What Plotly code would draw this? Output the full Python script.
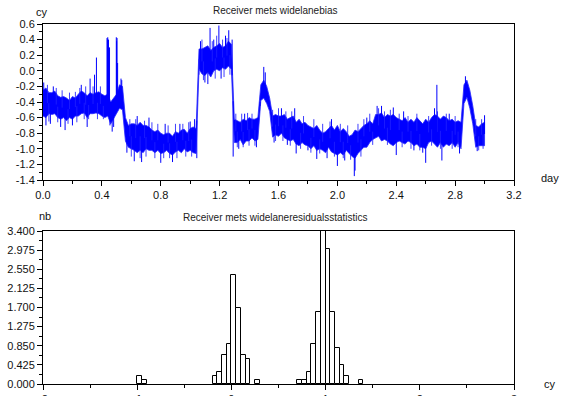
import numpy as np
import plotly.graph_objects as go

# ---------------- top chart data (day, cy) ----------------
days = [round(0.02 * i, 2) for i in range(151)]
band_hi = [-0.25, -0.22, -0.28, -0.28, -0.26, -0.32, -0.34, -0.33, -0.35, -0.38,
           -0.33, -0.35, -0.30, -0.26, -0.28, -0.32, -0.28, -0.30, -0.28, -0.27,
           -0.30, -0.32, -0.30, -0.40, -0.35, -0.30, -0.18, -0.20, -0.60, -0.70,
           -0.68, -0.68, -0.70, -0.66, -0.70, -0.70, -0.72, -0.76, -0.78, -0.76,
           -0.80, -0.82, -0.80, -0.80, -0.84, -0.78, -0.80, -0.76, -0.75, -0.80,
           -0.74, -0.72, -0.74, 0.28, 0.28, 0.30, 0.32, 0.26, 0.30, 0.32,
           0.35, 0.30, 0.32, 0.38, 0.34, -0.62, -0.64, -0.66, -0.62, -0.64,
           -0.60, -0.62, -0.62, -0.60, -0.18, -0.12, -0.20, -0.35, -0.58, -0.56,
           -0.58, -0.58, -0.56, -0.62, -0.60, -0.58, -0.66, -0.62, -0.68, -0.66,
           -0.70, -0.72, -0.74, -0.70, -0.76, -0.80, -0.78, -0.74, -0.70, -0.76,
           -0.70, -0.78, -0.74, -0.78, -0.84, -0.82, -0.76, -0.78, -0.74, -0.70,
           -0.68, -0.64, -0.68, -0.56, -0.56, -0.54, -0.60, -0.56, -0.58, -0.56,
           -0.60, -0.62, -0.64, -0.60, -0.66, -0.62, -0.66, -0.60, -0.64, -0.68,
           -0.62, -0.66, -0.60, -0.56, -0.58, -0.62, -0.58, -0.60, -0.64, -0.62,
           -0.66, -0.64, -0.66, -0.18, -0.12, -0.25, -0.45, -0.70, -0.72, -0.68,
           -0.66]
band_lo = [-0.58, -0.60, -0.55, -0.56, -0.55, -0.60, -0.62, -0.60, -0.64, -0.60,
           -0.62, -0.58, -0.58, -0.55, -0.54, -0.60, -0.55, -0.55, -0.54, -0.55,
           -0.58, -0.60, -0.58, -0.68, -0.62, -0.55, -0.48, -0.50, -0.90, -0.98,
           -1.00, -1.02, -1.05, -1.02, -1.05, -1.00, -1.02, -1.02, -1.05, -1.02,
           -1.06, -1.05, -1.02, -1.06, -1.08, -1.04, -1.02, -1.05, -1.00, -1.04,
           -1.02, -1.05, -1.06, 0.02, -0.04, -0.06, -0.02, -0.08, 0.00, 0.02,
           0.00, 0.04, 0.02, 0.06, 0.02, -0.92, -0.92, -0.88, -0.95, -0.90,
           -0.90, -0.86, -0.90, -0.88, -0.38, -0.35, -0.42, -0.52, -0.85, -0.82,
           -0.84, -0.80, -0.86, -0.88, -0.90, -0.88, -0.94, -0.96, -0.92, -0.95,
           -0.96, -1.00, -0.96, -1.02, -1.00, -1.02, -1.05, -0.98, -1.04, -1.06,
           -1.08, -1.05, -1.08, -1.02, -1.06, -1.10, -1.12, -1.06, -1.02, -0.98,
           -0.98, -0.92, -0.88, -0.86, -0.84, -0.90, -0.88, -0.90, -0.94, -0.96,
           -0.92, -0.90, -0.92, -0.94, -0.90, -0.92, -0.96, -0.94, -0.98, -0.98,
           -1.00, -0.92, -0.90, -0.94, -0.98, -0.92, -0.98, -0.94, -0.96, -0.92,
           -0.98, -0.92, -1.00, -0.42, -0.34, -0.48, -0.68, -0.98, -0.96, -0.96,
           -0.96]
# large excursions
spike_day = [0.005, 0.02, 0.05, 0.07, 0.12, 0.15, 0.20, 0.26, 0.30, 0.32,
             0.35, 0.363, 0.435, 0.438, 0.44, 0.442, 0.445, 0.452, 0.455, 0.47,
             0.48, 0.498, 0.50, 0.503, 0.507, 0.53, 0.535, 0.57, 0.62, 0.64,
             0.67, 0.72, 0.80, 0.83, 0.88, 0.93, 1.00, 1.03, 1.045, 1.07,
             1.10, 1.12, 1.135, 1.16, 1.195, 1.21, 1.24, 1.262, 1.285, 1.292,
             1.33, 1.37, 1.45, 1.475, 1.50, 1.51, 1.57, 1.62, 1.66, 1.71,
             1.72, 1.80, 1.86, 1.93, 1.96, 2.00, 2.05, 2.115, 2.12, 2.20,
             2.27, 2.30, 2.38, 2.40, 2.45, 2.52, 2.58, 2.60, 2.66, 2.676,
             2.71, 2.76, 2.83, 2.87, 2.95, 3.00]
spike_val = [-0.15, -0.70, -0.68, -0.20, -0.72, -0.76, -0.70, -0.18, -0.72, -0.10,
             -0.05, 0.17, 0.42, 0.40, 0.43, 0.35, 0.40, 0.30, -0.70, -0.78,
             -0.72, 0.43, 0.38, 0.42, 0.10, -0.10, -0.12, -1.05, -1.16, -0.58,
             -1.17, -0.60, -1.18, -0.68, -1.17, -0.68, -0.65, -0.62, -1.12, 0.38,
             -0.15, -0.17, 0.55, 0.40, 0.58, -0.10, 0.45, 0.52, 0.40, -1.10,
             -1.00, -0.55, -0.98, -0.45, 0.05, -0.02, -0.92, -0.48, -0.95, -0.48,
             -1.06, -1.02, -1.13, -1.12, -0.62, -1.22, -1.15, -1.35, -1.28, -0.60,
             -0.45, -0.45, -0.47, -1.08, -0.52, -1.02, -1.05, -1.18, -0.48, -0.18,
             -1.15, -0.55, -1.06, -0.07, -1.03, -0.57]
# small excursions along the band edges
fuzz_day = [0.03, 0.04, 0.09, 0.10, 0.13, 0.17, 0.18, 0.22, 0.23, 0.25,
            0.28, 0.29, 0.31, 0.34, 0.37, 0.39, 0.41,
            0.59, 0.60, 0.63, 0.66, 0.69, 0.70, 0.74, 0.76, 0.78, 0.82,
            0.85, 0.86, 0.90, 0.91, 0.95, 0.97, 0.99, 1.01,
            1.06, 1.08, 1.09, 1.15, 1.17, 1.18, 1.22, 1.23, 1.25, 1.27,
            1.31, 1.32, 1.35, 1.36, 1.39, 1.40, 1.42, 1.44,
            1.56, 1.58, 1.60, 1.63, 1.65, 1.68, 1.69, 1.75, 1.77, 1.82,
            1.84, 1.88, 1.90, 1.95, 1.98, 2.02, 2.04, 2.07, 2.09,
            2.14, 2.16, 2.18, 2.22, 2.24, 2.28, 2.32, 2.34, 2.36, 2.42,
            2.44, 2.48, 2.50, 2.54, 2.56, 2.62, 2.64, 2.68, 2.70, 2.74,
            2.78, 2.80, 2.82, 2.94, 2.96, 2.98, 2.99]
fuzz_val = [-0.18, -0.65, -0.22, -0.66, -0.25, -0.68, -0.28, -0.27, -0.66, -0.22,
            -0.62, -0.20, -0.62, -0.20, -0.62, -0.20, -0.62,
            -0.62, -1.10, -0.62, -1.12, -0.64, -1.10, -0.66, -1.12, -0.68, -1.12,
            -0.70, -1.12, -0.68, -1.12, -0.68, -1.10, -0.66, -1.10,
            -0.05, 0.40, -0.12, 0.38, -0.10, 0.45, 0.40, -0.08, 0.42, -0.05,
            -0.55, -0.98, -0.55, -0.98, -0.54, -0.96, -0.55, -0.96,
            -0.50, -0.90, -0.48, -0.90, -0.52, -0.96, -0.52, -1.00, -0.58, -1.05,
            -0.62, -1.06, -0.68, -0.65, -1.10, -0.68, -1.12, -0.70, -1.14,
            -0.68, -1.10, -0.62, -0.55, -0.95, -0.48, -0.52, -0.95, -0.50, -0.55,
            -0.98, -0.58, -1.00, -0.55, -1.02, -0.58, -0.96, -0.52, -1.00, -0.55,
            -1.00, -0.58, -0.98, -0.62, -1.02, -0.62, -1.00]
top_xticks = [0.0, 0.4, 0.8, 1.2, 1.6, 2.0, 2.4, 2.8, 3.2]
top_xlabels = ["0.0", "0.4", "0.8", "1.2", "1.6", "2.0", "2.4", "2.8", "3.2"]
top_yticks = [0.6, 0.4, 0.2, 0.0, -0.2, -0.4, -0.6, -0.8, -1.0, -1.2, -1.4]
top_ylabels = ["0.6", "0.4", "0.2", "0.0", "-0.2", "-0.4", "-0.6", "-0.8", "-1.0", "-1.2", "-1.4"]

# ---------------- bottom histogram data ----------------
bin_left = [-1.0, -0.95, -0.2, -0.15, -0.1, -0.05, 0.0, 0.05, 0.1, 0.15, 0.25,
            0.7, 0.75, 0.8, 0.85, 0.9, 0.95, 1.0, 1.05, 1.1, 1.15, 1.2, 1.35]
bin_height = [0.17, 0.09, 0.17, 0.27, 0.64, 0.90, 2.42, 1.70, 0.64, 0.55, 0.09,
              0.09, 0.09, 0.26, 0.88, 1.60, 3.90, 3.00, 1.60, 0.80, 0.43, 0.17, 0.09]
bin_width = 0.05
bot_xticks = [-2, -1, 0, 1, 2, 3]
bot_xlabels = ["-2", "-1", "0", "1", "2", "3"]
bot_yticks = [0.0, 0.425, 0.85, 1.275, 1.7, 2.125, 2.55, 2.975, 3.4]
bot_ylabels = ["0.000", "0.425", "0.850", "1.275", "1.700", "2.125", "2.550", "2.975", "3.400"]

# ---------------- figure ----------------
W, H = 565, 396
def px_x(p): return p / W
def px_y(p): return 1 - p / H

fig = go.Figure()

# band polygon
poly_x = days + days[::-1]
poly_y = band_hi + band_lo[::-1]
fig.add_trace(go.Scatter(x=poly_x, y=poly_y, mode="lines", fill="toself",
                         fillcolor="#0000ff", line=dict(color="rgba(40,40,255,0.8)", width=1),
                         xaxis="x", yaxis="y", hoverinfo="skip", showlegend=False))

# excursions drawn as thin vertical strokes from the band centre
mid = (np.array(band_hi) + np.array(band_lo)) / 2
def strokes(dlist, vlist):
    sx, sy = [], []
    for d, v in zip(dlist, vlist):
        b = float(np.interp(d, days, mid))
        sx += [d, d, None]
        sy += [b, v, None]
    return sx, sy

fx, fy = strokes(fuzz_day, fuzz_val)
fig.add_trace(go.Scatter(x=fx, y=fy, mode="lines", line=dict(color="rgba(30,30,255,0.85)", width=1),
                         xaxis="x", yaxis="y", hoverinfo="skip", showlegend=False))
sx, sy = strokes(spike_day, spike_val)
fig.add_trace(go.Scatter(x=sx, y=sy, mode="lines", line=dict(color="#0000ff", width=1),
                         xaxis="x", yaxis="y", hoverinfo="skip", showlegend=False))

# histogram bars
centers = [b + bin_width / 2 for b in bin_left]
fig.add_trace(go.Bar(x=centers, y=bin_height, width=bin_width,
                     marker=dict(color="white", line=dict(color="black", width=1)),
                     xaxis="x2", yaxis="y2", showlegend=False))

font = dict(family="Liberation Sans, Arial, sans-serif", size=11, color="#111111")
axis_common = dict(showline=True, linecolor="black", linewidth=1, mirror=True,
                   ticks="outside", ticklen=5, tickcolor="black", showgrid=False,
                   zeroline=False, tickfont=font, automargin=False)

x0, x1 = px_x(43), px_x(514)
fig.update_layout(
    width=W, height=H, autosize=False, margin=dict(l=0, r=0, t=0, b=0, pad=0),
    paper_bgcolor="white", plot_bgcolor="white", showlegend=False, bargap=0,
    xaxis=dict(domain=[x0, x1], range=[0, 3.2], anchor="y",
               tickvals=top_xticks, ticktext=top_xlabels,
               minor=dict(dtick=0.2, tick0=0, ticklen=3, ticks="outside", tickcolor="black"),
               **axis_common),
    yaxis=dict(domain=[px_y(180), px_y(24)], range=[-1.4, 0.6], anchor="x",
               tickvals=top_yticks, ticktext=top_ylabels,
               minor=dict(dtick=0.1, tick0=0, ticklen=3, ticks="outside", tickcolor="black"),
               **axis_common),
    xaxis2=dict(domain=[x0, x1], range=[-2, 3], anchor="y2",
                tickvals=bot_xticks, ticktext=bot_xlabels,
                minor=dict(dtick=0.5, tick0=0, ticklen=3, ticks="outside", tickcolor="black"),
                **axis_common),
    yaxis2=dict(domain=[px_y(384), px_y(231)], range=[0, 3.4], anchor="x2",
                tickvals=bot_yticks, ticktext=bot_ylabels,
                minor=dict(dtick=0.2125, tick0=0, ticklen=3, ticks="outside", tickcolor="black"),
                **axis_common),
)

small = dict(family="Liberation Sans, Arial, sans-serif", size=10, color="#222222")
def note(text, x, y, xanchor="center", f=small):
    fig.add_annotation(text=text, x=px_x(x), y=px_y(y), xref="paper", yref="paper",
                       xanchor=xanchor, yanchor="middle", showarrow=False, font=f)

note("Receiver mets widelanebias", 275, 10)
note("cy", 42, 12, f=font)
note("day", 550, 178, f=font)
note("Receiver mets widelaneresidualsstatistics", 275, 217)
note("nb", 45, 216, f=font)
note("cy", 550, 384, f=font)

fig.write_html("out.html", config={"displayModeBar": False},
               post_script="document.body.style.margin='0';document.body.style.padding='0';"
                           "document.documentElement.style.overflow='hidden';")
